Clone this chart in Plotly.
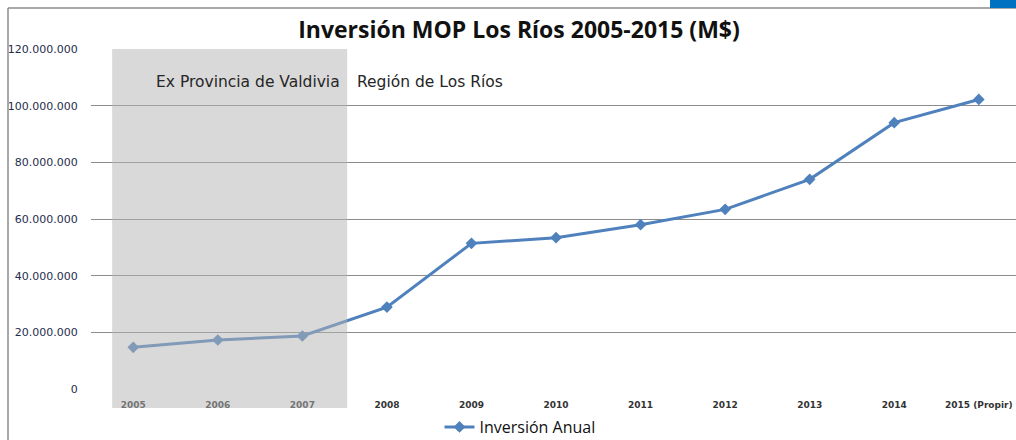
import plotly.graph_objects as go

years = ["2005", "2006", "2007", "2008", "2009", "2010", "2011", "2012", "2013", "2014", "2015 (Propir)"]
inversion = [14700000, 17300000, 18700000, 28900000, 51400000, 53400000, 58000000, 63400000, 74000000, 94000000, 102200000]
y_ticks = [0, 20000000, 40000000, 60000000, 80000000, 100000000, 120000000]
y_tick_labels = ["0", "20.000.000", "40.000.000", "60.000.000", "80.000.000", "100.000.000", "120.000.000"]

xi = list(range(len(years)))

# plot area in pixels: x 91..1016, y 49..389 (height 340)
H = 340.0
W = 925.0
def py(pix):  # pixel row -> paper y
    return (389 - pix) / H
def px(pix):  # pixel column -> paper x
    return (pix - 91) / W

fig = go.Figure()
fig.add_trace(go.Scatter(
    x=xi, y=inversion, mode="lines+markers", name="Inversión Anual",
    line=dict(color="#4f81bd", width=3),
    marker=dict(symbol="diamond", size=9, color="#4f81bd"),
))

# shaded "Ex Provincia" region
fig.add_shape(type="rect", xref="x", yref="paper", x0=-0.25, x1=2.53, y0=py(408), y1=1.0,
              fillcolor="rgb(179,179,179)", opacity=0.5, line=dict(width=0), layer="above")

# outer frame lines
fig.add_shape(type="line", xref="paper", yref="paper", x0=px(8), x1=1.0, y0=py(8), y1=py(8),
              line=dict(color="#8c8c8c", width=1.5))
fig.add_shape(type="line", xref="paper", yref="paper", x0=px(8), x1=px(8), y0=py(440), y1=py(8),
              line=dict(color="#8c8c8c", width=1.5))
# blue corner block
fig.add_shape(type="rect", xref="paper", yref="paper", x0=px(990), x1=1.0, y0=py(8), y1=py(0),
              fillcolor="#0070c0", line=dict(width=0))

fig.add_annotation(text="Ex Provincia de Valdivia", xref="paper", yref="paper", x=px(342), y=py(82),
                   xanchor="right", yanchor="middle", showarrow=False,
                   font=dict(family="DejaVu Sans", size=15.5, color="#262626"))
fig.add_annotation(text="Región de Los Ríos", xref="paper", yref="paper", x=px(355), y=py(82),
                   xanchor="left", yanchor="middle", showarrow=False,
                   font=dict(family="DejaVu Sans", size=15.5, color="#262626"))

fig.update_layout(
    width=1016, height=440,
    margin=dict(l=91, r=0, t=49, b=51, autoexpand=False),
    paper_bgcolor="white", plot_bgcolor="white",
    title=dict(text="<b>Inversión MOP Los Ríos 2005-2015 (M$)</b>", x=519/1016, xanchor="center",
               y=1 - 30/440, yanchor="middle",
               font=dict(family="Open Sans", size=23, color="#111111")),
    xaxis=dict(range=[-0.5, 10.44], tickmode="array", tickvals=xi, ticktext=years,
               showgrid=False, zeroline=False, showline=False, automargin=False,
               ticks="outside", ticklen=7, tickcolor="rgba(0,0,0,0)",
               tickfont=dict(family="DejaVu Sans", size=9, color="#333333", weight="bold")),
    yaxis=dict(range=[0, 120000000], tickmode="array", tickvals=y_ticks, ticktext=y_tick_labels,
               showgrid=True, gridcolor="#8c8c8c", gridwidth=1, zeroline=False, showline=False,
               automargin=False,
               ticks="outside", ticklen=10, tickcolor="rgba(0,0,0,0)",
               tickfont=dict(family="DejaVu Sans", size=11, color="#1f2d4d")),
    showlegend=True,
    legend=dict(orientation="h", x=px(520), xanchor="center", y=py(427), yanchor="middle",
                font=dict(family="Open Sans", size=16, color="#111111"),
                bgcolor="rgba(0,0,0,0)"),
)

fig.write_html("out.html", config={"displayModeBar": False},
               post_script="document.body.style.margin='0px';document.body.style.padding='0px';")
